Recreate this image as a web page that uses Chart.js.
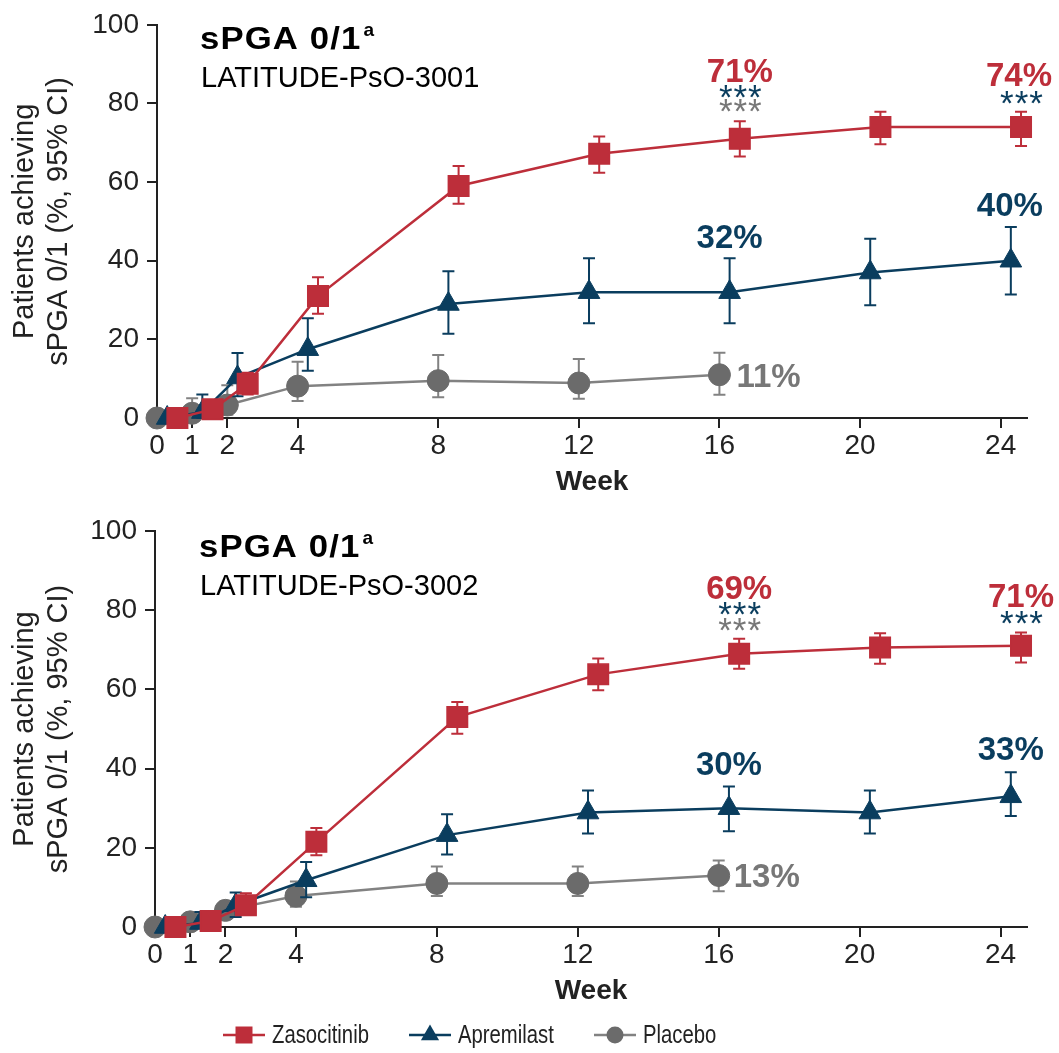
<!DOCTYPE html>
<html>
<head>
<meta charset="utf-8">
<script src="https://cdn.jsdelivr.net/npm/chart.js@4.4.1/dist/chart.umd.min.js"></script>
<style>
  html, body { margin: 0; padding: 0; background: #ffffff; }
  #wrap { position: relative; width: 1059px; height: 1053px; overflow: hidden; }
  canvas { position: absolute; left: 0; }
  #c3001 { top: 0; }
  #c3002 { top: 505px; }
</style>
</head>
<body>
<div id="wrap">
  <canvas id="c3001" width="1059" height="505"></canvas>
  <canvas id="c3002" width="1059" height="548"></canvas>
</div>
<script>
// ---- Visit weeks and axis ticks ----
const WEEKS = [0, 1, 2, 4, 8, 12, 16, 20, 24];
const PLACEBO_WEEKS = [0, 1, 2, 4, 8, 12, 16];
const WEEK_TICKS = [0, 1, 2, 4, 8, 12, 16, 20, 24];
const SERIES_NAMES = ['Zasocitinib', 'Apremilast', 'Placebo'];

// ---- LATITUDE-PsO-3001: % achieving sPGA 0/1 with 95% CI ----
const zas3001   = [0, 2.2, 8.7, 31.0, 59.0, 67.2, 71, 74.0, 74];
const zas3001Lo = [0, 0.5, 6.0, 26.5, 54.5, 62.4, 66.5, 69.6, 69.2];
const zas3001Hi = [0, 4.5, 11.5, 35.8, 64.1, 71.6, 75.5, 77.9, 77.9];
const apr3001   = [0, 1.5, 10.3, 17.5, 29.0, 32.0, 32, 37.0, 40];
const apr3001Lo = [0, 0, 5.5, 12.0, 21.4, 24.1, 24.1, 28.7, 31.4];
const apr3001Hi = [0, 6.0, 16.5, 25.4, 37.3, 40.6, 40.6, 45.6, 48.6];
const pla3001   = [0, 1.2, 3.3, 8.1, 9.5, 8.9, 11];
const pla3001Lo = [0, 0, 0.8, 4.3, 5.3, 4.9, 5.9];
const pla3001Hi = [0, 5.0, 8.3, 14.3, 16.0, 15.0, 16.6];

// ---- LATITUDE-PsO-3002 ----
const zas3002   = [0, 1.5, 5.5, 21.5, 53.0, 63.8, 69, 70.6, 71];
const zas3002Lo = [0, 0, 3.0, 18.1, 48.8, 59.8, 65.2, 66.5, 66.8];
const zas3002Hi = [0, 3.5, 8.5, 25.0, 56.8, 67.8, 72.8, 74.2, 74.4];
const apr3002   = [0, 1.0, 5.5, 11.8, 23.2, 28.9, 30, 28.9, 33];
const apr3002Lo = [0, 0, 2.5, 7.5, 18.3, 23.6, 24.2, 23.6, 28.0];
const apr3002Hi = [0, 3.8, 8.7, 16.4, 28.5, 34.5, 35.5, 34.5, 39.1];
const pla3002   = [0, 1.3, 4.2, 7.8, 11.0, 11.0, 13];
const pla3002Lo = [0, 0, 2.0, 5.1, 7.8, 7.8, 9.0];
const pla3002Hi = [0, 3.0, 6.5, 11.5, 15.3, 15.3, 16.8];

// ---- Styling ----
const RED = '#BD2E3A';
const NAVY = '#0A3D5E';
const GREY = '#6B6B6B';
const GREY_LINE = '#828282';
const GREY_TEXT = '#777777';
const INK = '#222222';
const FONT = "'Liberation Sans', Arial, Helvetica, sans-serif";
// small horizontal dodge so overlapping markers stay readable
const DODGE = [0.58, 0.29, 0];

function series(weeks, values, lo, hi, idx, style) {
  return Object.assign({
    label: SERIES_NAMES[idx],
    data: weeks.map((w, i) => ({ x: w + DODGE[idx], y: values[i] })),
    errLo: lo,
    errHi: hi,
    tension: 0,
    borderWidth: 2.5,
    clip: false
  }, style);
}

const STYLE_ZAS = { borderColor: RED, backgroundColor: RED, pointStyle: 'rect', pointRadius: 14.5, pointBorderWidth: 1.5, pointBackgroundColor: RED, pointBorderColor: RED, textColor: RED };
const STYLE_APR = { borderColor: NAVY, backgroundColor: NAVY, pointStyle: 'triangle', pointRadius: 12.5, pointBorderWidth: 1, pointBackgroundColor: NAVY, pointBorderColor: NAVY, textColor: NAVY };
const STYLE_PLA = { borderColor: GREY_LINE, backgroundColor: GREY, pointStyle: 'circle', pointRadius: 11, pointBorderWidth: 1, pointBackgroundColor: GREY, pointBorderColor: GREY, errColor: GREY_LINE, textColor: GREY_TEXT };

// Vertical 95% CI whiskers, drawn just under each series' own line and markers
const errorBarPlugin = {
  id: 'errorBars',
  beforeDatasetDraw(chart, args) {
    const ds = chart.data.datasets[args.index];
    if (!ds.errLo) return;
    const ctx = chart.ctx, xs = chart.scales.x, ys = chart.scales.y;
    ctx.save();
    ctx.strokeStyle = ds.errColor || ds.borderColor;
    ctx.lineWidth = 2;
    ds.data.forEach((p, i) => {
      const x = xs.getPixelForValue(p.x);
      const yLo = ys.getPixelForValue(ds.errLo[i]);
      const yHi = ys.getPixelForValue(ds.errHi[i]);
      if (Math.abs(yLo - yHi) < 0.5) return;
      ctx.beginPath();
      ctx.moveTo(x, yLo); ctx.lineTo(x, yHi);
      ctx.moveTo(x - 6, yLo); ctx.lineTo(x + 6, yLo);
      ctx.moveTo(x - 6, yHi); ctx.lineTo(x + 6, yHi);
      ctx.stroke();
    });
    ctx.restore();
  }
};

// Panel heading, study name, value call-outs and significance stars
const panelTextPlugin = {
  id: 'panelText',
  afterDatasetsDraw(chart, args, opts) {
    const ctx = chart.ctx, area = chart.chartArea;
    const xs = chart.scales.x, ys = chart.scales.y;
    ctx.save();
    ctx.textBaseline = 'alphabetic';
    ctx.textAlign = 'left';
    ctx.fillStyle = '#000000';
    // heading (set slightly wide) with superscript
    const hx = area.left + opts.dx, hy = area.top + opts.headY;
    ctx.font = 'bold 31px ' + FONT;
    ctx.letterSpacing = '1px';
    const hw = ctx.measureText(opts.heading).width * 1.12;
    ctx.save();
    ctx.translate(hx, hy);
    ctx.scale(1.12, 1);
    ctx.fillText(opts.heading, 0, 0);
    ctx.restore();
    ctx.letterSpacing = '0px';
    ctx.font = 'bold 19px ' + FONT;
    ctx.fillText(opts.sup, hx + hw + 2, hy - 13);
    // study name
    ctx.font = '29px ' + FONT;
    ctx.fillText(opts.study, area.left + opts.dx + 1, area.top + opts.studyY);

    // value call-outs: text is taken from the plotted value itself
    opts.notes.forEach(n => {
      const ds = chart.data.datasets[n.ds];
      const weeks = n.ds === 2 ? PLACEBO_WEEKS : WEEKS;
      const i = weeks.indexOf(n.week);
      const pt = ds.data[i];
      const px = xs.getPixelForValue(pt.x), py = ys.getPixelForValue(pt.y);
      ctx.font = 'bold 33px ' + FONT;
      ctx.fillStyle = ds.textColor;
      ctx.textAlign = n.align || 'center';
      ctx.fillText(Math.round(pt.y) + '%', px + (n.dx || 0), py + n.dy);
      (n.stars || []).forEach(s => {
        ctx.font = '35px ' + FONT;
        ctx.letterSpacing = '1px';
        ctx.textAlign = 'center';
        ctx.fillStyle = chart.data.datasets[s.vs].textColor;
        const m = ctx.measureText('***');
        const off = (m.actualBoundingBoxAscent - m.actualBoundingBoxDescent) / 2;
        ctx.fillText('***', px + 1, py + s.dy + off);
        ctx.letterSpacing = '0px';
      });
    });
    ctx.restore();
  }
};

// Series key: short line with the marker on it, followed by the name
const seriesKeyPlugin = {
  id: 'seriesKey',
  afterDraw(chart, args, opts) {
    if (!opts.show) return;
    const ctx = chart.ctx;
    const y = opts.y;
    ctx.save();
    chart.data.datasets.forEach((ds, k) => {
      const x = opts.starts[k];
      ctx.strokeStyle = ds.borderColor;
      ctx.lineWidth = 2.5;
      ctx.beginPath(); ctx.moveTo(x, y); ctx.lineTo(x + 42, y); ctx.stroke();
      const cx = x + 21;
      ctx.fillStyle = ds.pointBackgroundColor;
      ctx.beginPath();
      if (ds.pointStyle === 'rect') {
        ctx.rect(cx - 8.5, y - 8.5, 17, 17);
      } else if (ds.pointStyle === 'triangle') {
        const r = 10.5;
        ctx.moveTo(cx, y - r);
        ctx.lineTo(cx + r * Math.sin(Math.PI * 2 / 3), y + r / 2);
        ctx.lineTo(cx - r * Math.sin(Math.PI * 2 / 3), y + r / 2);
        ctx.closePath();
      } else {
        ctx.arc(cx, y, 8.5, 0, Math.PI * 2);
      }
      ctx.fill();
      // condensed setting of the series name
      ctx.save();
      ctx.translate(x + 49, y + 1);
      ctx.scale(0.78, 1);
      ctx.font = '26px ' + FONT;
      ctx.fillStyle = INK;
      ctx.textAlign = 'left';
      ctx.textBaseline = 'middle';
      ctx.fillText(ds.label, 0, 0);
      ctx.restore();
    });
    ctx.restore();
  }
};

function makeChart(canvasId, sets, cfg) {
  return new Chart(document.getElementById(canvasId), {
    type: 'line',
    data: {
      datasets: [
        series(WEEKS, sets.zas, sets.zasLo, sets.zasHi, 0, STYLE_ZAS),
        series(WEEKS, sets.apr, sets.aprLo, sets.aprHi, 1, STYLE_APR),
        series(PLACEBO_WEEKS, sets.pla, sets.plaLo, sets.plaHi, 2, STYLE_PLA)
      ]
    },
    options: {
      responsive: false,
      animation: false,
      events: [],
      devicePixelRatio: 1,
      layout: { padding: cfg.padding },
      scales: {
        x: {
          type: 'linear',
          min: 0,
          max: 24.75,
          afterBuildTicks: s => { s.ticks = WEEK_TICKS.map(v => ({ value: v })); },
          afterFit: s => { s.height = 87; },
          ticks: { autoSkip: false, maxRotation: 0, padding: 1, color: INK, font: { family: FONT, size: 28 }, callback: v => String(v) },
          grid: { display: true, drawOnChartArea: false, drawTicks: true, tickLength: 10, color: INK, lineWidth: 2 },
          border: { display: true, color: INK, width: 2 },
          title: { display: true, text: 'Week', color: INK, font: { family: FONT, size: 28, weight: 'bold' }, padding: { top: 0, bottom: 6 } }
        },
        y: {
          min: 0,
          max: 100,
          afterFit: s => { s.width = cfg.yWidth; },
          ticks: { stepSize: 20, padding: 8, color: INK, font: { family: FONT, size: 28 } },
          grid: { display: true, drawOnChartArea: false, drawTicks: true, tickLength: 10, color: INK, lineWidth: 2 },
          border: { display: true, color: INK, width: 2 },
          title: { display: true, text: ['Patients achieving', 'sPGA 0/1 (%, 95% CI)'], color: INK, font: { family: FONT, size: 29, lineHeight: 1.17 }, padding: { top: 8, bottom: 0 } }
        }
      },
      plugins: {
        legend: { display: false },
        tooltip: { enabled: false },
        panelText: cfg.panel,
        seriesKey: cfg.key
      }
    },
    plugins: [errorBarPlugin, panelTextPlugin, seriesKeyPlugin]
  });
}

makeChart('c3001', {
  zas: zas3001, zasLo: zas3001Lo, zasHi: zas3001Hi,
  apr: apr3001, aprLo: apr3001Lo, aprHi: apr3001Hi,
  pla: pla3001, plaLo: pla3001Lo, plaHi: pla3001Hi
}, {
  padding: { top: 19, right: 32, bottom: 0, left: 0 },
  yWidth: 157,
  panel: {
    heading: 'sPGA 0/1', sup: 'a', study: 'LATITUDE-PsO-3001',
    dx: 43, headY: 24, studyY: 62,
    notes: [
      { ds: 0, week: 16, dy: -57, stars: [{ vs: 1, dy: -47 }, { vs: 2, dy: -33 }] },
      { ds: 0, week: 24, dy: -41, dx: -2, stars: [{ vs: 1, dy: -30 }] },
      { ds: 1, week: 16, dy: -44 },
      { ds: 1, week: 24, dy: -45, dx: -1 },
      { ds: 2, week: 16, dy: 12, dx: 17, align: 'left' }
    ]
  },
  key: { show: false }
});

makeChart('c3002', {
  zas: zas3002, zasLo: zas3002Lo, zasHi: zas3002Hi,
  apr: apr3002, aprLo: apr3002Lo, aprHi: apr3002Hi,
  pla: pla3002, plaLo: pla3002Lo, plaHi: pla3002Hi
}, {
  padding: { top: 26, right: 32, bottom: 39, left: 0 },
  yWidth: 155,
  panel: {
    heading: 'sPGA 0/1', sup: 'a', study: 'LATITUDE-PsO-3002',
    dx: 44, headY: 26, studyY: 64,
    notes: [
      { ds: 0, week: 16, dy: -55, stars: [{ vs: 1, dy: -45 }, { vs: 2, dy: -29 }] },
      { ds: 0, week: 24, dy: -39, stars: [{ vs: 1, dy: -28 }] },
      { ds: 1, week: 16, dy: -33 },
      { ds: 1, week: 24, dy: -36 },
      { ds: 2, week: 16, dy: 11, dx: 15, align: 'left' }
    ]
  },
  key: { show: true, y: 530, starts: [223, 409, 594] }
});
</script>
</body>
</html>
